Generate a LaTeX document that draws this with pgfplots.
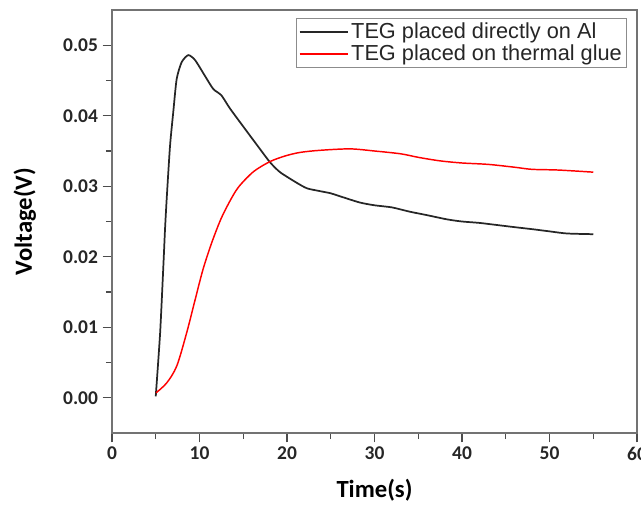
\documentclass[border=0pt]{standalone}
\usepackage{fontspec}
\setmainfont{Carlito}
\newfontfamily\arial{Liberation Sans}
\usepackage{pgfplots}
\pgfplotsset{compat=1.18}
\usetikzlibrary{calc}
\begin{document}
\begin{tikzpicture}
\begin{axis}[
  scale only axis,
  width=393.75pt, height=317.25pt,
  xmin=0, xmax=60, ymin=-0.005, ymax=0.055,
  xtick={0,10,...,60}, ytick={0,0.01,...,0.05},
  minor x tick num=1, minor y tick num=1,
  xtick pos=left, ytick pos=left,
  tick align=outside,
  major tick length=7pt, minor tick length=4.5pt,
  axis line style={draw=black!55, line width=0.9pt},
  every tick/.style={black!70, line width=1pt},
  /pgf/number format/assume math mode=true,
  ticklabel style={font=\fontsize{14.6}{17}\selectfont\bfseries, text=black!85},
  yticklabel style={/pgf/number format/fixed, /pgf/number format/fixed zerofill, /pgf/number format/precision=2},
  scaled y ticks=false,
  xlabel={Time(s)}, ylabel={Voltage(V)},
  label style={font=\fontsize{18.5}{22}\selectfont\bfseries},
  xlabel style={at={(axis description cs:0.5,-0.135)}, anchor=center},
  ylabel style={at={(axis description cs:-0.166,0.5)}, anchor=center, rotate=0},
  legend style={at={(0.981,0.981)}, anchor=north east, draw=black!45, line width=0.8pt,
    font=\arial\fontsize{16.3}{19}\selectfont, text=black!85, inner sep=1.5pt, row sep=-1pt},
  legend cell align=left,
  legend image code/.code={\draw[#1] (0pt,0pt) -- (36pt,0pt);},
]
\addplot[black!85, line width=1.3pt, smooth, tension=0.4] coordinates {
(5,0.0002) (5.5,0.0092) (5.87,0.0187) (6.06,0.0239) (6.25,0.0282) (6.63,0.0357)
(7.0,0.0405) (7.39,0.0452) (7.96,0.0476) (8.72,0.0486) (9.49,0.0479) (10.6,0.0457)
(11.57,0.0438) (12.5,0.0429) (13.5,0.0410) (15.4,0.0378) (16.9,0.0353) (18.06,0.0334)
(19.2,0.0320) (21.1,0.0305) (22.3,0.0297) (23.8,0.0293) (25,0.029) (26,0.0286)
(28.3,0.0277) (30,0.0273) (32,0.027) (34,0.0264) (36,0.0259) (38.3,0.0253)
(40,0.025) (42,0.0248) (44,0.0245) (46,0.0242) (48.1,0.0239) (50,0.0236)
(52,0.0233) (55,0.0232)
};
\addlegendentry{TEG placed directly on Al}
\addplot[red, line width=1.1pt, smooth] coordinates {
(5.03,0.0007) (6.25,0.0021) (7.4,0.0045) (8.53,0.0092) (9.5,0.0139) (10.4,0.0182)
(11.4,0.0220) (12.5,0.0255) (13.7,0.0284) (14.6,0.0301) (16.2,0.0321) (18.06,0.0335)
(19.8,0.0343) (21.5,0.0348) (23.8,0.0351) (27.2,0.0353)
(30,0.0350) (33,0.0346) (35,0.0341) (37.5,0.0336) (40,0.0333) (43,0.0331)
(46,0.0327) (48,0.0324) (51,0.0323) (55,0.0320)
};
\addlegendentry{TEG placed on thermal glue}
\end{axis}
\pgfresetboundingbox
\path[use as bounding box] ($(current axis.south west)+(-84pt,-53.25pt)$) rectangle ($(current axis.north east)+(3pt,7.5pt)$);
\end{tikzpicture}
\end{document}
